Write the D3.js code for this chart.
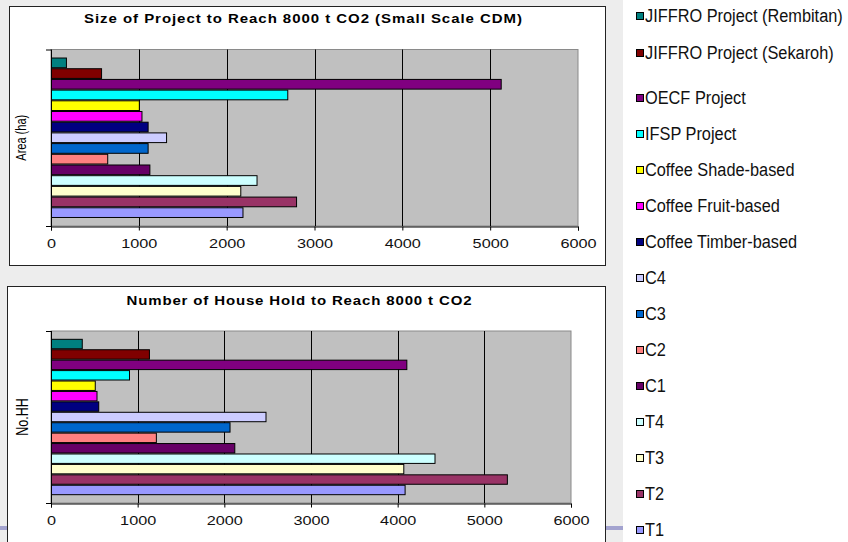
<!DOCTYPE html>
<html>
<head>
<meta charset="utf-8">
<script src="https://cdn.jsdelivr.net/npm/d3@7/dist/d3.min.js"></script>
<style>
  html, body { margin: 0; padding: 0; background: #ededed; }
  svg { display: block; }
</style>
</head>
<body>
<svg id="chart" width="848" height="542"></svg>
<script>
// Project types, one bar each, listed top to bottom
const categories = [
  "JIFFRO Project (Rembitan)", "JIFFRO Project (Sekaroh)", "OECF Project", "IFSP Project",
  "Coffee Shade-based", "Coffee Fruit-based", "Coffee Timber-based",
  "C4", "C3", "C2", "C1", "T4", "T3", "T2", "T1"
];
const barColors = [
  "#008080", "#800000", "#800080", "#00FFFF", "#FFFF00", "#FF00FF", "#000080",
  "#CCCCFF", "#0066CC", "#FF8080", "#660066", "#CCFFFF", "#FFFFCC", "#993366", "#9999FF"
];
// Area (ha) needed to reach 8000 t CO2
const areaHa = [170, 570, 5120, 2690, 1000, 1030, 1100, 1310, 1100, 640, 1120, 2340, 2155, 2790, 2180];
// Number of households needed to reach 8000 t CO2
const households = [355, 1130, 4100, 900, 505, 525, 545, 2475, 2060, 1210, 2115, 4425, 4065, 5260, 4080];
const xTickValues = [0, 1000, 2000, 3000, 4000, 5000, 6000];
const titles = ["Size of Project to Reach 8000 t CO2 (Small Scale CDM)", "Number of House Hold to Reach 8000 t CO2"];
const yTitles = ["Area (ha)", "No.HH"];

const svg = d3.select("#chart");
const FONT = "Liberation Sans, Arial, sans-serif";
const WIDE = 1.25; // chart lettering is drawn slightly widened

// slide backdrop and accent line
svg.append("rect").attr("x", 0).attr("y", 0).attr("width", 848).attr("height", 542).attr("fill", "#ededed");
svg.append("rect").attr("x", 0).attr("y", 526).attr("width", 624).attr("height", 4).attr("fill", "#a3a3cf");
svg.append("rect").attr("x", 623).attr("y", 0).attr("width", 225).attr("height", 542).attr("fill", "#ffffff");

function drawPanel(cfg) {
  const g = svg.append("g");
  g.append("rect")
    .attr("x", cfg.box[0] + 0.5).attr("y", cfg.box[1] + 0.5)
    .attr("width", cfg.box[2] - cfg.box[0]).attr("height", cfg.box[3] - cfg.box[1])
    .attr("fill", "#ffffff").attr("stroke", "#222").attr("stroke-width", 1);

  const x = d3.scaleLinear().domain([0, 6000]).range([cfg.plot[0], cfg.plot[1]]);
  const y = d3.scaleBand().domain(categories).range([cfg.plot[2], cfg.plot[3]])
    .paddingInner(0).paddingOuter(0.75);

  // plot area
  g.append("rect")
    .attr("x", cfg.plot[0]).attr("y", cfg.plot[2])
    .attr("width", cfg.plot[1] - cfg.plot[0]).attr("height", cfg.plot[3] - cfg.plot[2])
    .attr("fill", "#c0c0c0").attr("stroke", "#8a8a8a").attr("stroke-width", 1);

  // vertical gridlines
  g.selectAll("line.grid").data(xTickValues.slice(1, -1)).join("line")
    .attr("class", "grid")
    .attr("x1", d => Math.round(x(d)) + 0.5).attr("x2", d => Math.round(x(d)) + 0.5)
    .attr("y1", cfg.plot[2]).attr("y2", cfg.plot[3])
    .attr("stroke", "#000").attr("stroke-width", 1);

  // bars
  g.selectAll("rect.bar").data(cfg.values).join("rect")
    .attr("class", "bar")
    .attr("x", x(0) + 0.5)
    .attr("y", (d, i) => y(categories[i]) + 0.5)
    .attr("width", d => x(d) - x(0))
    .attr("height", y.bandwidth() - 1)
    .attr("fill", (d, i) => barColors[i])
    .attr("stroke", "#000").attr("stroke-width", 1);

  // left axis with ticks at the category edges
  g.append("line")
    .attr("x1", x(0) + 0.5).attr("x2", x(0) + 0.5)
    .attr("y1", cfg.plot[2]).attr("y2", cfg.plot[3] + 4)
    .attr("stroke", "#000");
  [cfg.plot[2], cfg.plot[3]].forEach(v => {
    g.append("line")
      .attr("x1", x(0) - 5).attr("x2", x(0))
      .attr("y1", v + 0.5).attr("y2", v + 0.5)
      .attr("stroke", "#000");
  });

  // bottom axis
  const axis = d3.axisBottom(x).tickValues(xTickValues).tickSize(4).tickPadding(8).tickFormat(d3.format("d"));
  const ax = g.append("g").attr("transform", `translate(0,${cfg.plot[3] + 0.5})`).call(axis);
  ax.select(".domain").attr("stroke", "#000");
  ax.selectAll(".tick line").attr("stroke", "#000");
  ax.selectAll(".tick text")
    .attr("font-family", FONT).attr("font-size", 13).attr("fill", "#111")
    .attr("transform", `scale(${WIDE},1)`);

  // title
  g.append("text")
    .attr("transform", `translate(${cfg.titleX},${cfg.titleY}) scale(${WIDE},1)`)
    .attr("text-anchor", "middle").attr("dominant-baseline", "central")
    .attr("font-family", FONT).attr("font-size", 12).attr("font-weight", "bold")
    .attr("textLength", cfg.titleLen / WIDE).attr("lengthAdjust", "spacing")
    .text(cfg.title);

  // y-axis title
  g.append("text")
    .attr("transform", `translate(${cfg.yTitleX},${(cfg.plot[2] + cfg.plot[3]) / 2}) scale(${WIDE},1) rotate(-90)`)
    .attr("text-anchor", "middle").attr("dominant-baseline", "central")
    .attr("font-family", FONT).attr("font-size", cfg.yTitleSize)
    .text(cfg.yTitle);
}

drawPanel({
  box: [9, 6, 605, 265], plot: [51, 578, 49.5, 226],
  values: areaHa, title: titles[0], titleX: 303, titleY: 19, titleLen: 438,
  yTitle: yTitles[0], yTitleX: 22, yTitleSize: 11
});
drawPanel({
  box: [7, 286, 605, 560], plot: [51, 571, 331, 503],
  values: households, title: titles[1], titleX: 299, titleY: 301, titleLen: 345,
  yTitle: yTitles[1], yTitleX: 22, yTitleSize: 12.5
});

// legend
const legendY = categories.map((c, i) => i < 2 ? 16 + 37 * i : 98 + 36 * (i - 2));
const legend = svg.append("g");
categories.forEach((c, i) => {
  const row = legend.append("g").attr("transform", `translate(636,${legendY[i]})`);
  row.append("rect").attr("x", 0.5).attr("y", -3.5).attr("width", 7).attr("height", 7)
    .attr("fill", barColors[i]).attr("stroke", "#000").attr("stroke-width", 1);
  row.append("text")
    .attr("transform", "translate(9,0) scale(0.86,1)")
    .attr("dominant-baseline", "central")
    .attr("font-family", FONT).attr("font-size", 19).attr("fill", "#111")
    .text(c);
});
</script>
</body>
</html>
